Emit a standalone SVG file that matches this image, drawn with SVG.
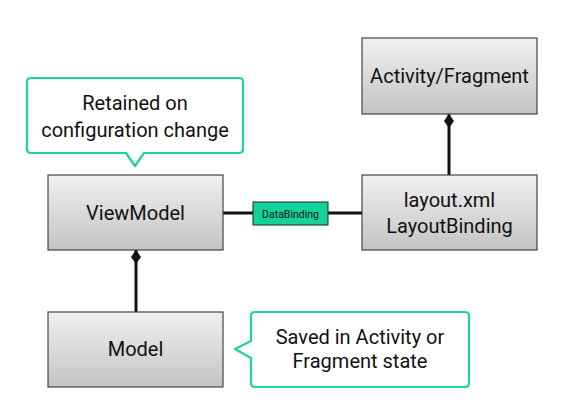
<svg xmlns="http://www.w3.org/2000/svg" width="567" height="412" viewBox="0 0 567 412">
<defs>
<linearGradient id="g" x1="0" y1="0" x2="0" y2="1">
<stop offset="0" stop-color="#f0f0f0"/>
<stop offset="1" stop-color="#c4c4c4"/>
</linearGradient>
<marker id="dia" viewBox="0 0 14 10" refX="14" refY="5" markerWidth="14" markerHeight="10" markerUnits="userSpaceOnUse" orient="auto">
<path d="M0,5 L7,0 L14,5 L7,10 Z" fill="#111"/>
</marker>
<style>
.box{fill:url(#g);stroke:#444;stroke-width:1.2}
.t{font-family:Roboto,"Liberation Sans",sans-serif;font-size:20px;fill:#111;text-anchor:middle}
.call{fill:#fff;stroke:#1dd39b;stroke-width:2.2;stroke-linejoin:round}
.con{stroke:#111;stroke-width:3;fill:none}
</style>
</defs>
<rect width="567" height="412" fill="#fff"/>
<g id="connectors">
<line class="con" x1="223" y1="213" x2="362" y2="213"/>
<line class="con" x1="449" y1="175" x2="449" y2="114" marker-end="url(#dia)"/>
<line class="con" x1="136" y1="312" x2="136" y2="250" marker-end="url(#dia)"/>
<g id="databinding">
<rect x="253" y="202" width="75" height="23" fill="#14d39a" stroke="#222" stroke-width="1"/>
<text x="290.5" y="217.5" font-family="Roboto,'Liberation Sans',sans-serif" font-size="10.5" fill="#111" text-anchor="middle">DataBinding</text>
</g>
</g>
<g id="callout-retained">
<path class="call" d="M31,78 H239 Q243,78 243,82 V149 Q243,153 239,153 H144 L135,166 L126,153 H31 Q27,153 27,149 V82 Q27,78 31,78 Z"/>
<text class="t" x="135" y="110">Retained on</text>
<text class="t" x="135" y="137">configuration change</text>
</g>
<g id="viewmodel">
<rect class="box" x="48" y="175" width="175" height="75"/>
<text class="t" x="135.5" y="220">ViewModel</text>
</g>
<g id="activity">
<rect class="box" x="362" y="38" width="175" height="76"/>
<text class="t" x="449.5" y="83">Activity/Fragment</text>
</g>
<g id="layout">
<rect class="box" x="362" y="175" width="175" height="75"/>
<text class="t" x="449.5" y="207">layout.xml</text>
<text class="t" x="449.5" y="233">LayoutBinding</text>
</g>
<g id="model">
<rect class="box" x="48" y="312" width="175" height="75"/>
<text class="t" x="135.5" y="356">Model</text>
</g>
<g id="callout-saved">
<path class="call" d="M255,312 H465 Q469,312 469,316 V383 Q469,387 465,387 H255 Q251,387 251,383 V358 L235,349 L251,341 V316 Q251,312 255,312 Z"/>
<text class="t" x="360" y="344">Saved in Activity or</text>
<text class="t" x="360" y="368">Fragment state</text>
</g>
</svg>
